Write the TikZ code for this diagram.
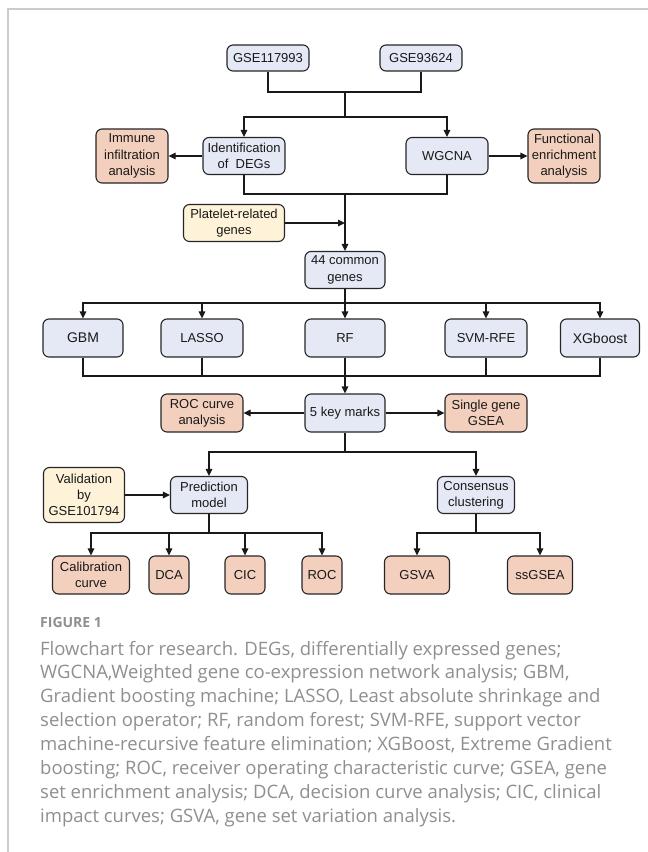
\documentclass[tikz,border=0pt]{standalone}
\usepackage{fontspec}
\setmainfont{Liberation Sans}
\newfontfamily\capfont{Open Sans}
\usetikzlibrary{arrows.meta}
\definecolor{boxblue}{HTML}{E5E8F5}
\definecolor{boxsalmon}{HTML}{F3CFBD}
\definecolor{boxyellow}{HTML}{FEF2D8}
\definecolor{framegrey}{HTML}{CCCCCC}
\definecolor{capgrey}{HTML}{8F8F8F}
\begin{document}
\begin{tikzpicture}[x=1pt,y=-1pt,
  box/.style={draw=black!85, line width=1.1pt, rounded corners=6pt, align=center, inner sep=0pt, font=\fontsize{13}{16.3}\selectfont, text=black!90},
  bluebox/.style={box, fill=boxblue},
  redbox/.style={box, fill=boxsalmon},
  yelbox/.style={box, fill=boxyellow},
  sz/.style 2 args={minimum width=#1pt, minimum height=#2pt},
  big/.style={font=\fontsize{14}{17}\selectfont},
  link/.style={line width=1.1pt, draw=black!90},
  arr/.style={link, -{Triangle[length=7pt,width=6.5pt]}},
  capline/.style={anchor=base west, inner sep=0pt, text=capgrey, font=\capfont\fontsize{18.5}{22}\selectfont},
]
\useasboundingbox (0,0) rectangle (648,852);
\fill[white] (0,0) rectangle (648,852);
\draw[framegrey, line width=1.3pt] (8,852) -- (8,9) -- (648,9);

% nodes
\node[bluebox, sz={82}{26}] (gse1) at (268,58) {GSE117993};
\node[bluebox, sz={82}{26}] (gse2) at (421,58) {GSE93624};
\node[redbox, sz={72}{54}] (imm) at (132,156) {Immune\\infiltration\\analysis};
\node[bluebox, sz={82}{37}] (deg) at (244,156) {Identification\\of~~DEGs};
\node[bluebox, sz={82}{37}] (wgc) at (447,156) {WGCNA};
\node[redbox, sz={72}{54}] (fun) at (564,156) {Functional\\enrichment\\analysis};
\node[yelbox, sz={101}{37}] (plt) at (234,223) {Platelet-related\\genes};
\node[bluebox, sz={80}{37}] (com) at (345,270) {44 common\\genes};
\node[bluebox, sz={80}{38}, big] (gbm) at (83,338) {GBM};
\node[bluebox, sz={82}{38}] (las) at (202,338) {LASSO};
\node[bluebox, sz={80}{38}] (rf) at (345,338) {RF};
\node[bluebox, sz={82}{38}] (svm) at (486,338) {SVM-RFE};
\node[bluebox, sz={79}{38}, big] (xgb) at (600,338) {XGboost};
\node[bluebox, sz={80}{38}] (keys) at (345,413) {5 key marks};
\node[redbox, sz={82}{38}] (rocA) at (202,413) {ROC curve\\analysis};
\node[redbox, sz={82}{38}] (sgs) at (486,413) {Single gene\\GSEA};
\node[bluebox, sz={77}{37}] (pred) at (209,495) {Prediction\\model};
\node[bluebox, sz={77}{37}] (cons) at (476,495) {Consensus\\clustering};
\node[yelbox, sz={81}{55}] (val) at (84,495) {Validation\\by\\GSE101794};
\node[redbox, sz={77}{38}] (cal) at (91,575) {Calibration\\curve};
\node[redbox, sz={40}{38}] (dca) at (169,575) {DCA};
\node[redbox, sz={40}{38}] (cic) at (245,575) {CIC};
\node[redbox, sz={40}{38}] (roc) at (322,575) {ROC};
\node[redbox, sz={65}{38}] (gsva) at (417,575) {GSVA};
\node[redbox, sz={65}{38}] (ssg) at (540,575) {ssGSEA};

% junctions
\coordinate (j1) at (345,92);
\coordinate (j2) at (345,117);
\coordinate (j3) at (345,194);
\coordinate (pj) at (345,223);
\coordinate (j4) at (345,303);
\coordinate (j5) at (345,376);
\coordinate (j6) at (345,452);
\coordinate (j7) at (209,533);
\coordinate (j8) at (476,533);

% connectors
\draw[link] (gse1.south) |- (j1) -| (gse2.south);
\draw[link] (j1) -- (j2);
\draw[arr] (j2) -| (deg.north);
\draw[arr] (j2) -| (wgc.north);
\draw[arr] (deg.west) -- (imm.east);
\draw[arr] (wgc.east) -- (fun.west);
\draw[link] (deg.south) |- (j3) -| (wgc.south);
\draw[arr] (j3) -- (com.north);
\draw[arr] (plt.east) -- (pj);
\draw[link] (com.south) -- (j4);
\foreach \n in {gbm,las,rf,svm,xgb} {\draw[arr] (j4) -| (\n.north);}
\foreach \n in {gbm,las,rf,svm,xgb} {\draw[link] (\n.south) |- (j5);}
\draw[arr] (j5) -- (keys.north);
\draw[arr] (keys.west) -- (rocA.east);
\draw[arr] (keys.east) -- (sgs.west);
\draw[link] (keys.south) -- (j6);
\draw[arr] (j6) -| (pred.north);
\draw[arr] (j6) -| (cons.north);
\draw[arr] (val.east) -- (pred.west);
\draw[link] (pred.south) -- (j7);
\foreach \n in {cal,dca,cic,roc} {\draw[arr] (j7) -| (\n.north);}
\draw[link] (cons.south) -- (j8);
\draw[arr] (j8) -| (gsva.north);
\draw[arr] (j8) -| (ssg.north);

% caption
\node[capline, font=\capfont\bfseries\fontsize{14}{17}\selectfont] (fig) at (40,627) {FIGURE 1};
\node[capline] (c1) at (40,655) {Flowchart for research. DEGs, differentially expressed genes;};
\node[capline] (c2) at (40,678.85) {WGCNA,Weighted gene co-expression network analysis; GBM,};
\node[capline] (c3) at (40,702.7) {Gradient boosting machine; LASSO, Least absolute shrinkage and};
\node[capline] (c4) at (40,726.55) {selection operator; RF, random forest; SVM-RFE, support vector};
\node[capline] (c5) at (40,750.4) {machine-recursive feature elimination; XGBoost, Extreme Gradient};
\node[capline] (c6) at (40,774.25) {boosting; ROC, receiver operating characteristic curve; GSEA, gene};
\node[capline] (c7) at (40,798.1) {set enrichment analysis; DCA, decision curve analysis; CIC, clinical};
\node[capline] (c8) at (40,822) {impact curves; GSVA, gene set variation analysis.};
\end{tikzpicture}
\end{document}
